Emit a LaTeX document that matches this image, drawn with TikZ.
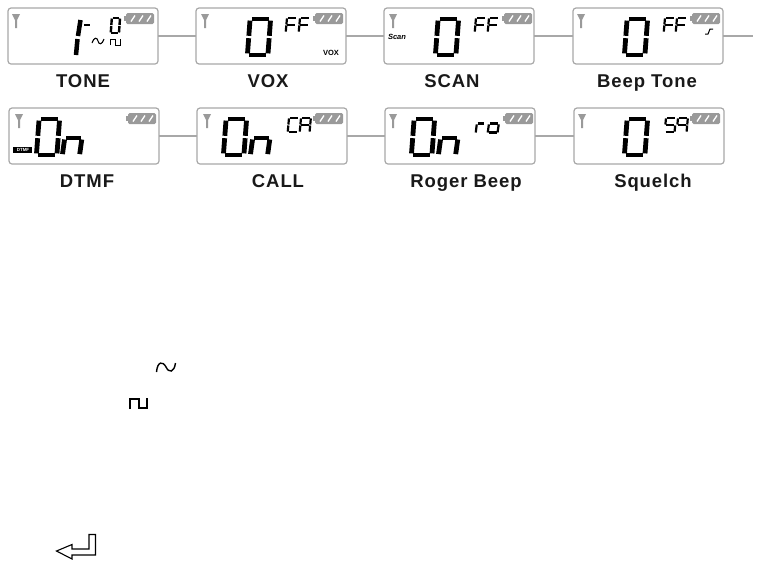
\documentclass[tikz,border=0pt]{standalone}
\usepackage{fontspec}
\setmainfont{Liberation Sans}
\newfontfamily\capfont[LetterSpace=5]{Liberation Sans}
\definecolor{lcdgray}{HTML}{A8A8A8}
\definecolor{battgray}{HTML}{9A9A9A}
\def\sga{(.16,.05)--(.84,.05)}
\def\sgb{(.91,.09)--(.91,.47)}
\def\sgc{(.91,.53)--(.91,.91)}
\def\sgd{(.16,.95)--(.84,.95)}
\def\sge{(.09,.53)--(.09,.91)}
\def\sgf{(.09,.09)--(.09,.47)}
\def\sgg{(.16,.5)--(.84,.5)}
\def\sgh{(.09,.14)--(.09,.95)}
\def\sgi{(.91,.14)--(.91,.95)}
% \lcdseg{x}{y}{w}{h}{line width}{segments}
\newcommand\lcdseg[6]{\begin{scope}[shift={(#1+1,#2)},xscale=#3,yscale=#4,xslant=0.12]
\foreach \s in {#6}{\draw[line width=#5pt,black] \csname sg\s\endcsname;}
\end{scope}}
\newcommand\antenna[2]{\begin{scope}[shift={(#1,#2)}]
\fill[battgray] (0,0)--(8,0)--(5,6)--(5,14)--(3,14)--(3,6)--cycle;
\end{scope}}
\newcommand\battery[2]{\begin{scope}[shift={(#1,#2)}]
\fill[battgray,rounded corners=1.5pt] (2,0) rectangle (30,11);
\fill[battgray] (0,3) rectangle (3,8);
\foreach \q in {7,15,23}{\draw[white,line width=1.3pt] (\q,8.5)--(\q+4,2.5);}
\end{scope}}
\tikzset{
  x=1pt,y=-1pt,
  lcdbox/.style={draw=lcdgray,line width=1.2pt,rounded corners=3pt,anchor=north west,inner sep=0pt,outer sep=0pt,minimum width=150pt,minimum height=56pt},
  link/.style={draw=lcdgray,line width=1.1pt},
  caption/.style={font=\capfont\fontsize{18.5}{21}\selectfont\bfseries,inner sep=0pt,anchor=base,text=black!90},
  tiny/.style={font=\fontsize{7.5}{8}\selectfont\bfseries,inner sep=0pt},
  symbol/.style={draw=black,line width=1.4pt,line join=miter}
}
\begin{document}
\begin{tikzpicture}
\useasboundingbox (0,0) rectangle (759,563);
% boxes
\node[lcdbox] (tone) at (8,8) {};
\node[lcdbox] (vox) at (196,8) {};
\node[lcdbox] (scan) at (384,8) {};
\node[lcdbox] (beep) at (573,8) {};
\node[lcdbox] (dtmf) at (9,108) {};
\node[lcdbox] (call) at (197,108) {};
\node[lcdbox] (roger) at (385,108) {};
\node[lcdbox] (squelch) at (574,108) {};
\coordinate (tail) at (753,36);
% connectors
\draw[link] (tone.east)--(vox.west);
\draw[link] (vox.east)--(scan.west);
\draw[link] (scan.east)--(beep.west);
\draw[link] (beep.east)--(tail);
\draw[link] (dtmf.east)--(call.west);
\draw[link] (call.east)--(roger.west);
\draw[link] (roger.east)--(squelch.west);
% captions
\node[caption] (ltone) at (83,87) {TONE};
\node[caption] (lvox) at (268,87) {VOX};
\node[caption] (lscan) at (452,87) {SCAN};
\node[caption] (lbeep) at (647,87) {Beep Tone};
\node[caption] (ldtmf) at (87,187) {DTMF};
\node[caption] (lcall) at (278,187) {CALL};
\node[caption] (lroger) at (466,187) {Roger Beep};
\node[caption] (lsquelch) at (653,187) {Squelch};
% antennas, batteries
\antenna{12}{14}\antenna{201}{14}\antenna{389}{14}\antenna{577}{14}
\antenna{15}{114}\antenna{203}{114}\antenna{389}{114}\antenna{578}{114}
\battery{124}{13}\battery{313}{13}\battery{502}{13}\battery{690}{13}
\battery{126}{113}\battery{313}{113}\battery{503}{113}\battery{690}{113}
% TONE
\draw[line width=4.5pt] (80.5,20)--(78,36);
\draw[line width=4.5pt] (77.5,39)--(76,55);
\draw[line width=2.5pt] (84,25)--(90,25);
\lcdseg{110}{17}{10}{17}{2.4}{a,b,c,d,e,f}
\draw[line width=1.1pt] (92,43) .. controls (94,37) and (97,37) .. (98,41) .. controls (99,45) and (102,45) .. (104,39);
\draw[line width=1pt] (110,45)--(110,39)--(115,39)--(115,45)--(120,45)--(120,39);
% VOX
\lcdseg{247}{17}{25}{40}{4.8}{a,b,c,d,e,f}
\lcdseg{285}{17}{12}{16}{2.2}{a,f,e,g}
\lcdseg{298}{17}{12}{16}{2.2}{a,f,e,g}
\node[tiny] (tvox) at (331,53) {VOX};
% SCAN
\lcdseg{435}{17}{25}{40}{4.8}{a,b,c,d,e,f}
\lcdseg{474}{17}{12}{16}{2.2}{a,f,e,g}
\lcdseg{487}{17}{12}{16}{2.2}{a,f,e,g}
\node[tiny,font=\fontsize{7.5}{8}\selectfont\bfseries\itshape] (tscan) at (397,37) {Scan};
% BEEP
\lcdseg{624}{17}{25}{40}{4.8}{a,b,c,d,e,f}
\lcdseg{663}{17}{12}{16}{2.2}{a,f,e,g}
\lcdseg{675}{17}{12}{16}{2.2}{a,f,e,g}
\draw[line width=1pt] (705,34)--(708,34)--(710,29)--(713,29);
% DTMF
\lcdseg{36}{117}{25}{40}{4.8}{a,b,c,d,e,f}
\lcdseg{62}{137}{21}{18}{4.8}{a,h,i}
\fill (13,147) rectangle (32,153);
\node[tiny,text=white,font=\fontsize{4.5}{5}\selectfont\bfseries] (tdtmf) at (23,150) {DTMF};
% CALL
\lcdseg{223}{117}{25}{40}{4.8}{a,b,c,d,e,f}
\lcdseg{250}{137}{21}{18}{4.8}{a,h,i}
\lcdseg{287}{117}{12}{16}{2.2}{a,f,e,d}
\lcdseg{299}{117}{12}{16}{2.2}{a,b,c,e,f,g}
% ROGER
\lcdseg{411}{117}{25}{40}{4.8}{a,b,c,d,e,f}
\lcdseg{438}{137}{21}{18}{4.8}{a,h,i}
\lcdseg{475}{123}{10}{10}{2.2}{a,h}
\lcdseg{487}{123}{12}{10}{2.2}{a,h,i,d}
% SQUELCH
\lcdseg{624}{117}{25}{40}{4.8}{a,b,c,d,e,f}
\lcdseg{664}{117}{12}{16}{2.2}{a,f,g,c,d}
\lcdseg{676}{117}{12}{16}{2.2}{a,b,c,f,g}
% loose symbols
\draw[symbol] (156.5,372) .. controls (157.5,361) and (163,361) .. (166,367) .. controls (169,373) and (174,373) .. (175.5,363);
\draw[symbol] (130,409)--(130,399)--(139,399)--(139,408)--(147,408)--(147,398);
\draw[symbol,line width=1.1pt] (56.5,551)--(72,544.5)--(72,549)--(89,549)--(89,534.5)--(95.5,534.5)--(95.5,555)--(72,555)--(72,559)--cycle;
\end{tikzpicture}
\end{document}
